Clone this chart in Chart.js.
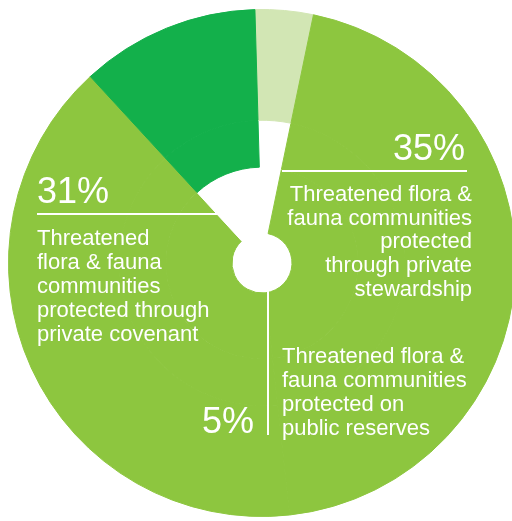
<!DOCTYPE html>
<html>
<head>
<meta charset="utf-8">
<script src="https://cdn.jsdelivr.net/npm/chart.js@4.4.0/dist/chart.umd.min.js"></script>
<style>
  html, body { margin: 0; padding: 0; background: #fff; overflow: hidden; width: 512px; height: 521px; }
  #wrap { position: absolute; left: 8px; top: 9px; width: 508px; height: 508px; }
</style>
</head>
<body>
<div id="wrap"><canvas id="pie"></canvas></div>
<script>
// slices clockwise, starting just left of 12 o'clock
var sliceNames = ['Public reserves', 'Private stewardship', 'Private covenant', 'Other'];
var sliceShares = [3.7, 45.0, 39.9, 11.4]; // share of the drawn circle
var slicePercents = ['5%', '35%', '31%', ''];
var sliceText = [
    ['Threatened flora &', 'fauna communities', 'protected on', 'public reserves'],
    ['Threatened flora &', 'fauna communities', 'protected', 'through private', 'stewardship'],
    ['Threatened', 'flora & fauna', 'communities', 'protected through', 'private covenant'],
    []
];

var PALE = '#d2e6b4';
var LIGHT = '#8dc63f';
var DARK = '#13b04b';
var WHITE = '#ffffff';

// rings from outside in; white hides the part of a slice that is cut away
var ringColours = [
    [PALE, LIGHT, LIGHT, DARK],
    [WHITE, LIGHT, LIGHT, DARK],
    [WHITE, LIGHT, LIGHT, WHITE]
];
var ringWeights = [111, 47, 66];

function ring(i) {
    return {
        data: sliceShares,
        backgroundColor: ringColours[i],
        // border in the fill colour hides the seams between rings and slices
        borderColor: ringColours[i],
        borderWidth: 1,
        hoverOffset: 0,
        weight: ringWeights[i]
    };
}

function drawBlock(ctx, lines, x, y, step, align) {
    ctx.textAlign = align;
    for (var i = 0; i < lines.length; i++) {
        ctx.fillText(lines[i], x, y + i * step);
    }
}

var labelPlugin = {
    id: 'labels',
    afterDatasetsDraw: function (chart) {
        var arc = chart.getDatasetMeta(0).data[0];
        var cx = arc.x, cy = arc.y;
        var ctx = chart.ctx;
        ctx.save();
        ctx.fillStyle = '#fff';
        ctx.strokeStyle = '#fff';
        ctx.lineWidth = 2;
        ctx.textBaseline = 'alphabetic';

        // leader lines
        ctx.beginPath();
        ctx.moveTo(cx + 20, cy - 92); ctx.lineTo(cx + 205, cy - 92);
        ctx.moveTo(cx - 225, cy - 49); ctx.lineTo(cx - 44, cy - 49);
        ctx.moveTo(cx + 6, cy + 22); ctx.lineTo(cx + 6, cy + 172);
        ctx.stroke();

        ctx.font = '36px "Liberation Sans", Arial, sans-serif';
        ctx.textAlign = 'right';
        ctx.fillText(slicePercents[1], cx + 203, cy - 103);
        ctx.fillText(slicePercents[0], cx - 8, cy + 170);
        ctx.textAlign = 'left';
        ctx.fillText(slicePercents[2], cx - 225, cy - 60);

        ctx.font = '22px "Liberation Sans", Arial, sans-serif';
        drawBlock(ctx, sliceText[1], cx + 210, cy - 62, 23.7, 'right');
        drawBlock(ctx, sliceText[2], cx - 225, cy - 18, 24, 'left');
        drawBlock(ctx, sliceText[0], cx + 20, cy + 100, 24, 'left');
        ctx.restore();
    }
};

new Chart(document.getElementById('pie'), {
    type: 'doughnut',
    data: {
        labels: sliceNames,
        datasets: [ring(0), ring(1), ring(2)]
    },
    options: {
        responsive: true,
        maintainAspectRatio: false,
        animation: false,
        rotation: -1.6,
        cutout: 30,
        layout: { padding: 0 },
        plugins: {
            legend: { display: false },
            tooltip: { enabled: false }
        }
    },
    plugins: [labelPlugin]
});
</script>
</body>
</html>
